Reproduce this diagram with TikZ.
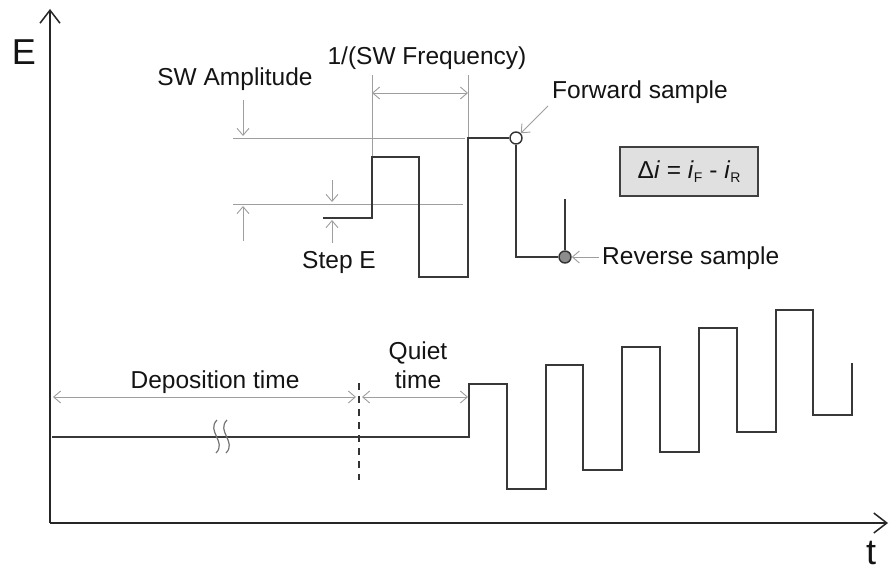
\documentclass[tikz,border=0pt]{standalone}
\usepackage{fontspec}
\setmainfont{Liberation Sans}
\usetikzlibrary{arrows.meta}
\begin{document}
\begin{tikzpicture}[x=1pt,y=-1pt,
  wave/.style={line width=2.2pt, draw=black!78, line join=miter},
  guide/.style={line width=0.9pt, draw=black!38},
  garrow/.style={guide, -{Straight Barb[length=7pt,width=12pt]}},
  gdouble/.style={guide, {Straight Barb[length=7pt,width=12pt]}-{Straight Barb[length=7pt,width=12pt]}},
  axis/.style={line width=1.5pt, draw=black!85, -{Straight Barb[length=13pt,width=20pt]}},
  lbl/.style={font=\fontsize{24.5}{28}\selectfont, text=black!92, inner sep=0pt},
  big/.style={font=\fontsize{36}{40}\selectfont, text=black!92, inner sep=0pt}
]
\useasboundingbox (0,0) rectangle (890,572);
\fill[white] (0,0) rectangle (890,572);

% axes
\coordinate (O) at (50,523);
\coordinate (Etop) at (50,9);
\coordinate (tend) at (888,523);
\draw[axis] (O) -- (Etop);
\draw[axis] (O) -- (tend);
\node[big] (E) at (24,52) {E};
\node[big] (t) at (871,553) {t};

% ---------- bottom waveform ----------
\draw[wave] (52,437) -- (469,437) -- (469,384) -- (507,384) -- (507,489) -- (546,489)
  -- (546,365) -- (583,365) -- (583,470) -- (622,470) -- (622,347) -- (660,347)
  -- (660,452) -- (699,452) -- (699,328) -- (737,328) -- (737,432) -- (776,432)
  -- (776,310) -- (813,310) -- (813,415) -- (852,415) -- (852,363);

% break symbol
\draw[line width=1.2pt, draw=black!55] (217,420) .. controls (206,431) and (227,442) .. (216,453);
\draw[line width=1.2pt, draw=black!55] (227,420) .. controls (216,431) and (237,442) .. (226,453);

% dashed separator
\coordinate (dtop) at (359,383);
\coordinate (dbot) at (359,480);
\draw[line width=1.6pt, draw=black!80, dash pattern=on 7pt off 6pt] (dtop) -- (dbot);

% deposition / quiet arrows
\coordinate (dL) at (53,397);
\coordinate (dR) at (356,397);
\coordinate (qL) at (362,397);
\coordinate (qR) at (468,397);
\draw[gdouble] (dL) -- (dR);
\draw[gdouble] (qL) -- (qR);
\node[lbl] (dep) at (215,382) {Deposition time};
\node[lbl] (quiet) at (418,353) {Quiet};
\node[lbl] (qtime) at (418,380) {time};

% ---------- top inset ----------
\draw[guide] (233,138) -- (465,138);
\draw[guide] (233,204) -- (463,204);
\draw[guide] (372,75) -- (372,157);
\draw[guide] (468,75) -- (468,138);
\coordinate (fL) at (372,93);
\coordinate (fR) at (468,93);
\draw[gdouble] (fL) -- (fR);
\node[lbl] (freq) at (427,58) {1/(SW Frequency)};

% SW amplitude arrows
\node[lbl] (amp) at (235,79) {SW Amplitude};
\coordinate (a1s) at (243,100);
\coordinate (a1e) at (243,136);
\coordinate (a2s) at (243,241);
\coordinate (a2e) at (243,206);
\draw[garrow] (a1s) -- (a1e);
\draw[garrow] (a2s) -- (a2e);

% step E arrows
\node[lbl] (step) at (339,262) {Step E};
\coordinate (s1s) at (332,180);
\coordinate (s1e) at (332,202);
\coordinate (s2s) at (332,243);
\coordinate (s2e) at (332,220);
\draw[garrow] (s1s) -- (s1e);
\draw[garrow] (s2s) -- (s2e);

% waveform
\node[circle, draw=black!80, fill=white, line width=1.4pt, minimum size=12pt, inner sep=0pt] (fwd) at (516,138) {};
\node[circle, draw=black!80, fill=black!45, line width=1.4pt, minimum size=12pt, inner sep=0pt] (rev) at (565,257) {};
\draw[wave] (323,218) -- (372,218) -- (372,157) -- (419,157) -- (419,277) -- (468,277)
  -- (468,138) -- (fwd.west);
\draw[wave] (fwd.south) -- (516,257) -- (rev.west);
\coordinate (rtop) at (565,199);
\draw[wave] (rtop) -- (rev.north);

% sample labels
\node[lbl, anchor=west] (fwdlbl) at (552,92) {Forward sample};
\coordinate (fa) at (548,106);
\draw[garrow] (fa) -- (fwd.north east);
\node[lbl, anchor=west] (revlbl) at (602,258) {Reverse sample};
\coordinate (ra) at (599,257);
\draw[garrow] (ra) -- (rev.east);

% formula box
\node[draw=black!75, fill=black!12, line width=1.4pt, minimum width=138pt, minimum height=49pt, inner sep=0pt,
  font=\fontsize{24.5}{28}\selectfont, text=black!92] (box) at (689,171.5)
  {Δ\textit{i} = \textit{i}\raisebox{-0.35ex}{\fontsize{14}{14}\selectfont F} - \textit{i}\raisebox{-0.35ex}{\fontsize{14}{14}\selectfont R}};
\end{tikzpicture}
\end{document}
